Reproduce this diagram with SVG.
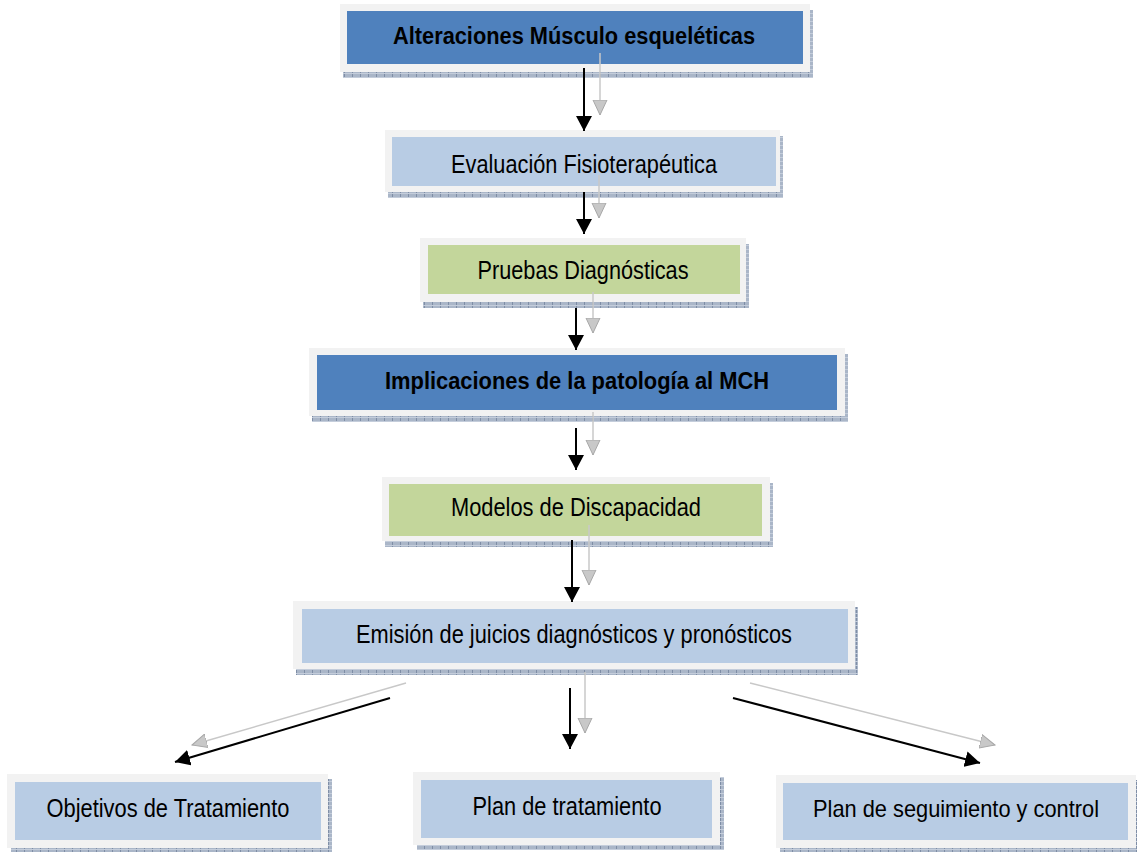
<svg xmlns="http://www.w3.org/2000/svg" width="1137" height="852" viewBox="0 0 1137 852">
<style>
.frame{fill:#f2f2f2;}
.shadow{fill:url(#shd);}
.dark{fill:#4f81bd;}
.light{fill:#b8cce4;}
.green{fill:#c3d69b;}
.t{font-family:"Liberation Sans Narrow","Liberation Sans",Arial,sans-serif;font-size:26px;fill:#000;text-anchor:middle;}
.b{font-weight:bold;font-size:23px;}
.blk{stroke:#000;stroke-width:2;fill:none;marker-end:url(#hb);}
.gry{stroke:#c8c8c8;stroke-width:1.5;fill:none;marker-end:url(#hg);}
</style>
<defs>
<pattern id="shd" width="8" height="4" patternUnits="userSpaceOnUse">
<rect width="8" height="4" fill="#aab6c8"/>
<rect x="0" y="0" width="1" height="4" fill="#7f8ea6"/>
<rect x="0" y="1" width="8" height="1" fill="#c4cddb"/>
</pattern>
<marker id="hb" markerUnits="userSpaceOnUse" markerWidth="16" markerHeight="16" refX="15" refY="8" orient="auto" viewBox="0 0 16 16">
<path d="M0,0 L15,8 L0,16 Z" fill="#000"/>
</marker>
<marker id="hg" markerUnits="userSpaceOnUse" markerWidth="16" markerHeight="16" refX="15" refY="8" orient="auto" viewBox="0 0 16 16">
<path d="M0,1 L15,8 L0,15 Z" fill="#c8c8c8" stroke="#a8a8a8" stroke-width="1"/>
</marker>
</defs>
<rect width="1137" height="852" fill="#fff"/>
<g id="n1">
<rect class="shadow" x="343" y="10" width="470" height="68"/>
<rect class="frame" x="340" y="4" width="470" height="68"/>
<rect class="dark" x="347" y="11" width="456" height="53"/>
<text class="t b" x="574" y="44" textLength="362" lengthAdjust="spacingAndGlyphs">Alteraciones Músculo esqueléticas</text>
</g>
<g id="n2">
<rect class="shadow" x="388" y="136" width="395" height="62"/>
<rect class="frame" x="385" y="130" width="395" height="62"/>
<rect class="light" x="392" y="137" width="384" height="49"/>
<text class="t" x="584" y="173" textLength="266" lengthAdjust="spacingAndGlyphs">Evaluación Fisioterapéutica</text>
</g>
<g id="n3">
<rect class="shadow" x="423" y="244" width="326" height="64"/>
<rect class="frame" x="420" y="238" width="326" height="64"/>
<rect class="green" x="428" y="245" width="312" height="49"/>
<text class="t" x="583" y="279" textLength="211" lengthAdjust="spacingAndGlyphs">Pruebas Diagnósticas</text>
</g>
<g id="n4">
<rect class="shadow" x="312" y="354" width="536" height="68"/>
<rect class="frame" x="309" y="348" width="536" height="68"/>
<rect class="dark" x="317" y="355" width="520" height="55"/>
<text class="t b" x="577" y="389" textLength="384" lengthAdjust="spacingAndGlyphs">Implicaciones de la patología al MCH</text>
</g>
<g id="n5">
<rect class="shadow" x="385" y="483" width="388" height="64"/>
<rect class="frame" x="382" y="477" width="388" height="64"/>
<rect class="green" x="389" y="484" width="373" height="52"/>
<text class="t" x="576" y="516" textLength="250" lengthAdjust="spacingAndGlyphs">Modelos de Discapacidad</text>
</g>
<g id="n6">
<rect class="shadow" x="296" y="607" width="562" height="68"/>
<rect class="frame" x="293" y="601" width="562" height="68"/>
<rect class="light" x="302" y="609" width="546" height="54"/>
<text class="t" x="574" y="643" textLength="436" lengthAdjust="spacingAndGlyphs">Emisión de juicios diagnósticos y pronósticos</text>
</g>
<g id="n7">
<rect class="shadow" x="11" y="779" width="321" height="73"/>
<rect class="frame" x="7" y="774" width="321" height="74"/>
<rect class="light" x="15" y="782" width="306" height="58"/>
<text class="t" x="168" y="817" textLength="243" lengthAdjust="spacingAndGlyphs">Objetivos de Tratamiento</text>
</g>
<g id="n8">
<rect class="shadow" x="417" y="777" width="307" height="73"/>
<rect class="frame" x="413" y="772" width="307" height="73"/>
<rect class="light" x="421" y="780" width="291" height="58"/>
<text class="t" x="567" y="815" textLength="189" lengthAdjust="spacingAndGlyphs">Plan de tratamiento</text>
</g>
<g id="n9">
<rect class="shadow" x="780" y="780" width="357" height="72"/>
<rect class="frame" x="776" y="775" width="360" height="73"/>
<rect class="light" x="783" y="783" width="345" height="57"/>
<text class="t" x="956" y="817" font-size="24" style="font-size:24px" textLength="286" lengthAdjust="spacingAndGlyphs">Plan de seguimiento y control</text>
</g>
<g id="connectors">
<line class="gry" x1="600" y1="53" x2="600" y2="115"/>
<line class="gry" x1="599" y1="175" x2="599" y2="218"/>
<line class="gry" x1="593" y1="292" x2="593" y2="333"/>
<line class="gry" x1="593" y1="412" x2="593" y2="455"/>
<line class="gry" x1="589" y1="525" x2="589" y2="585"/>
<line class="gry" x1="585" y1="672" x2="585" y2="733"/>
<line class="gry" x1="406" y1="683" x2="192" y2="745"/>
<line class="gry" x1="750" y1="683" x2="995" y2="745"/>
<line class="blk" x1="584" y1="68" x2="584" y2="131"/>
<line class="blk" x1="584" y1="192" x2="584" y2="234"/>
<line class="blk" x1="576" y1="308" x2="576" y2="350"/>
<line class="blk" x1="576" y1="428" x2="576" y2="470"/>
<line class="blk" x1="572" y1="540" x2="572" y2="602"/>
<line class="blk" x1="570" y1="688" x2="570" y2="749"/>
<line class="blk" x1="390" y1="698" x2="175" y2="762"/>
<line class="blk" x1="733" y1="698" x2="980" y2="763"/>
</g>
</svg>
